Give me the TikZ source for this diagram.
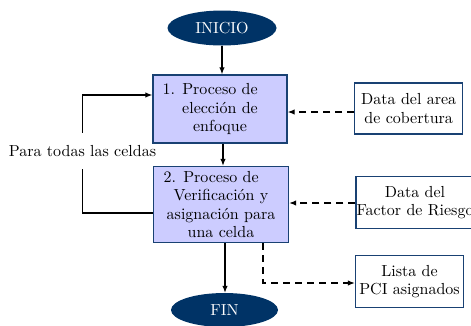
\documentclass[tikz,border=0pt]{standalone}
\usepackage{fontspec}
\setmainfont{lmroman10-regular.otf}
\usetikzlibrary{shapes.geometric,arrows.meta}
\definecolor{navy}{RGB}{0,51,102}
\definecolor{bordblue}{RGB}{25,65,115}
\definecolor{lav}{RGB}{204,204,255}
\begin{document}
\begin{tikzpicture}[x=1pt,y=-1pt,
  every node/.style={font=\fontsize{16pt}{18.5pt}\selectfont},
  term/.style={ellipse,fill=navy,text=white,minimum width=109pt,minimum height=35pt,inner sep=0pt},
  proc/.style={rectangle,draw=bordblue,fill=lav,line width=1.4pt,align=center,inner sep=0pt},
  datab/.style={rectangle,draw=bordblue,fill=white,line width=1.4pt,align=center,inner sep=0pt},
  arr/.style={line width=1.2pt,-{Latex[length=7pt,width=5.5pt]}},
  darr/.style={line width=1.2pt,dash pattern=on 7pt off 5pt,-{Latex[length=7pt,width=5.5pt]}},
  plain/.style={line width=1.2pt}]
\useasboundingbox (0,0) rectangle (471,325);
\node[term] (ini) at (222,28) {INICIO};
\node[proc,minimum width=134pt,minimum height=68pt] (b1) at (220,109) {\llap{1. }Proceso de\\elección de\\enfoque};
\node[proc,minimum width=135pt,minimum height=76pt] (b2) at (221,204.5) {\llap{2. }Proceso de\\Verificación y\\asignación para\\una celda};
\node[term,minimum width=107pt,minimum height=34pt] (fin) at (224.5,310) {FIN};
\node[datab,minimum width=108pt,minimum height=51pt] (da) at (408.7,108.5) {Data del area\\de cobertura};
\node[datab,minimum width=118pt,minimum height=52pt] (df) at (415,202.5) {Data del\\Factor de Riesgo};
\node[datab,minimum width=108pt,minimum height=52pt] (li) at (409.5,281.5) {Lista de\\PCI asignados};
\node[inner xsep=0pt,inner ysep=12.4pt] (loop) at (82.5,151) {Para todas las celdas};
% main flow
\draw[arr] (ini.south -| 222,0) -- (b1.north -| 222,0);
\draw[arr] (b1.south -| 223,0) -- (b2.north -| 223,0);
\draw[arr] (b2.south -| 225,0) -- (fin.north -| 225,0);
% loop
\draw[plain] (b2.west |- 0,213) -| (loop.south);
\draw[arr] (loop.north) |- (b1.west |- 0,95);
% data inputs
\draw[darr] (da.west |- 0,112) -- (b1.east |- 0,112);
\draw[darr] (df.west |- 0,203) -- (b2.east |- 0,203);
\draw[darr] (b2.south -| 263,0) |- (li.west |- 0,283);
\end{tikzpicture}
\end{document}
